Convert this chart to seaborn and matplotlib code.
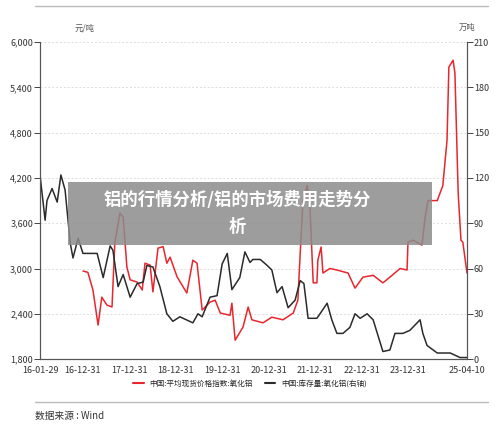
import matplotlib
matplotlib.use("Agg")
import matplotlib.pyplot as plt
import seaborn as sns
from matplotlib.lines import Line2D
from matplotlib.patches import Rectangle

# inventory (right axis, 万吨)
inv_t = [2016.08,2016.19,2016.23,2016.34,2016.45,2016.53,2016.62,2016.73,2016.79,2016.90,2017.005,2017.31,2017.44,2017.59,2017.65,2017.76,2017.87,2018.02,2018.17,2018.30,2018.38,2018.51,2018.66,2018.81,2018.94,2019.09,2019.37,2019.48,2019.57,2019.74,2019.89,2020.0,2020.11,2020.21,2020.38,2020.49,2020.60,
         2020.66,2020.82,2020.97,2021.07,2021.18,2021.29,2021.42,2021.57,2021.68,2021.76,2021.85,2022.04,2022.26,2022.36,2022.47,2022.60,2022.75,2022.86,2022.97,2023.12,2023.25,2023.36,2023.46,2023.61,2023.72,2023.89,2024.04,2024.26,2024.32,2024.41,2024.63,2024.91,2025.12,2025.27]
inv_v = [122,92,105,113,104,122,112,77,67,80,70,70,54,75,72,48,56,41,50,51,62,61,48,30,25,28,24,30,28,41,42,63,70,46,54,71,64,
         66,66,62,59,44,48,34,39,52,50,27,27,37,26,17,17,21,30,27,30,26,15,5,6,17,17,19,26,17,9,4,4,1,1]

# price (left axis, 元/吨)
px_t = [2017.005,2017.11,2017.22,2017.33,2017.41,2017.52,2017.63,2017.69,2017.80,2017.87,2017.95,2018.02,2018.17,2018.28,2018.34,2018.45,2018.51,2018.62,2018.73,2018.81,2018.88,2019.03,2019.24,2019.37,2019.46,2019.57,2019.74,2019.85,2019.96,2020.17,2020.21,2020.28,2020.45,2020.56,2020.64,2020.88,2021.07,2021.31,2021.53,2021.63,2021.68,2021.74,2021.83,2021.89,2021.96,2022.04,2022.06,2022.13,2022.17,2022.32,2022.47,2022.71,2022.86,2023.03,2023.25,2023.46,2023.61,2023.83,2023.98,2024.00,2024.11,2024.30,2024.37,2024.43,2024.63,2024.69,2024.75,2024.84,2024.88,2024.97,2025.01,2025.08,2025.14,2025.18,2025.27]
px_v = [2966,2950,2714,2250,2620,2515,2490,3340,3735,3680,3020,2850,2820,2715,3070,3045,2690,3270,3290,3070,3150,2890,2675,3110,3070,2450,2555,2580,2410,2380,2540,2050,2225,2490,2320,2280,2355,2320,2410,2580,3200,3900,4100,3815,2810,2810,3110,3285,2940,3000,2980,2940,2740,2885,2910,2810,2885,3000,2980,3350,3375,3310,3680,3900,3900,4000,4100,4700,5670,5760,5590,4000,3375,3350,2940]

ticks = [2016.08,2017.0,2018.0,2019.0,2020.0,2021.0,2022.0,2023.0,2024.0,2025.27]
tick_labels = ["16-01-29","16-12-31","17-12-31","18-12-31","19-12-31","20-12-31","21-12-31","22-12-31","23-12-31","25-04-10"]

sns.set_style("white")
plt.rcParams['font.family'] = ['Noto Sans CJK SC', 'DejaVu Sans']

fig = plt.figure(figsize=(5, 4.3), dpi=100)
ax = fig.add_axes([0.08, 0.165, 0.854, 0.737])
ax2 = ax.twinx()

sns.lineplot(x=px_t, y=px_v, ax=ax, color="#e8262e", lw=1.1, sort=False)
sns.lineplot(x=inv_t, y=inv_v, ax=ax2, color="#2b2b2b", lw=1.1, sort=False)

ax.set_ylim(1800, 6000)
ax.set_yticks(range(1800, 6001, 600))
ax.set_yticklabels([f"{v:,}" for v in range(1800, 6001, 600)], fontsize=6.5, color="#333")
ax2.set_ylim(0, 210)
ax2.set_yticks(range(0, 211, 30))
ax2.set_yticklabels([str(v) for v in range(0, 211, 30)], fontsize=6.5, color="#333")
ax.set_xlim(2016.08, 2025.27)
ax.set_xticks(ticks)
ax.set_xticklabels(tick_labels, fontsize=6.5, color="#333")
ax.grid(axis='y', ls=(0, (2, 2)), color="#dddddd", lw=0.7)
for a in (ax, ax2):
    a.tick_params(length=4, width=0.7, color="#444", pad=1)
    a.spines["top"].set_visible(False)
    for s in ("left", "right", "bottom"):
        a.spines[s].set_color("#555")
        a.spines[s].set_linewidth(0.8)

fig.text(0.17, 0.93, "元/吨", fontsize=6, color="#555", ha="center")
fig.text(0.935, 0.93, "万吨", fontsize=6, color="#555", ha="center")

handles = [Line2D([], [], color="#e8262e", lw=1.5), Line2D([], [], color="#2b2b2b", lw=1.5)]
fig.legend(handles, ["中国:平均现货价格指数:氧化铝", "中国:库存量:氧化铝(右轴)"],
           loc="center", bbox_to_anchor=(0.5, 0.108), ncol=2, frameon=False,
           fontsize=5.5, handlelength=1.4, columnspacing=1.5)

fig.add_artist(Line2D([0.07, 0.975], [0.985, 0.985], color="#bbbbbb", lw=1))
fig.add_artist(Line2D([0.07, 0.975], [0.065, 0.065], color="#bbbbbb", lw=1))
fig.text(0.07, 0.032, "数据来源 : Wind", fontsize=7, color="#333", va="center")

fig.add_artist(Rectangle((0.136, 0.43), 0.728, 0.147, transform=fig.transFigure,
                         facecolor="#8c8c8c", alpha=0.85, edgecolor="none", zorder=10))
fig.text(0.475, 0.535, "铝的行情分析/铝的市场费用走势分", fontsize=12.5, color="white", weight="bold",
         ha="center", va="center", zorder=11)
fig.text(0.475, 0.472, "析", fontsize=12.5, color="white", weight="bold", ha="center", va="center", zorder=11)

fig.savefig("out.png", dpi=100)
